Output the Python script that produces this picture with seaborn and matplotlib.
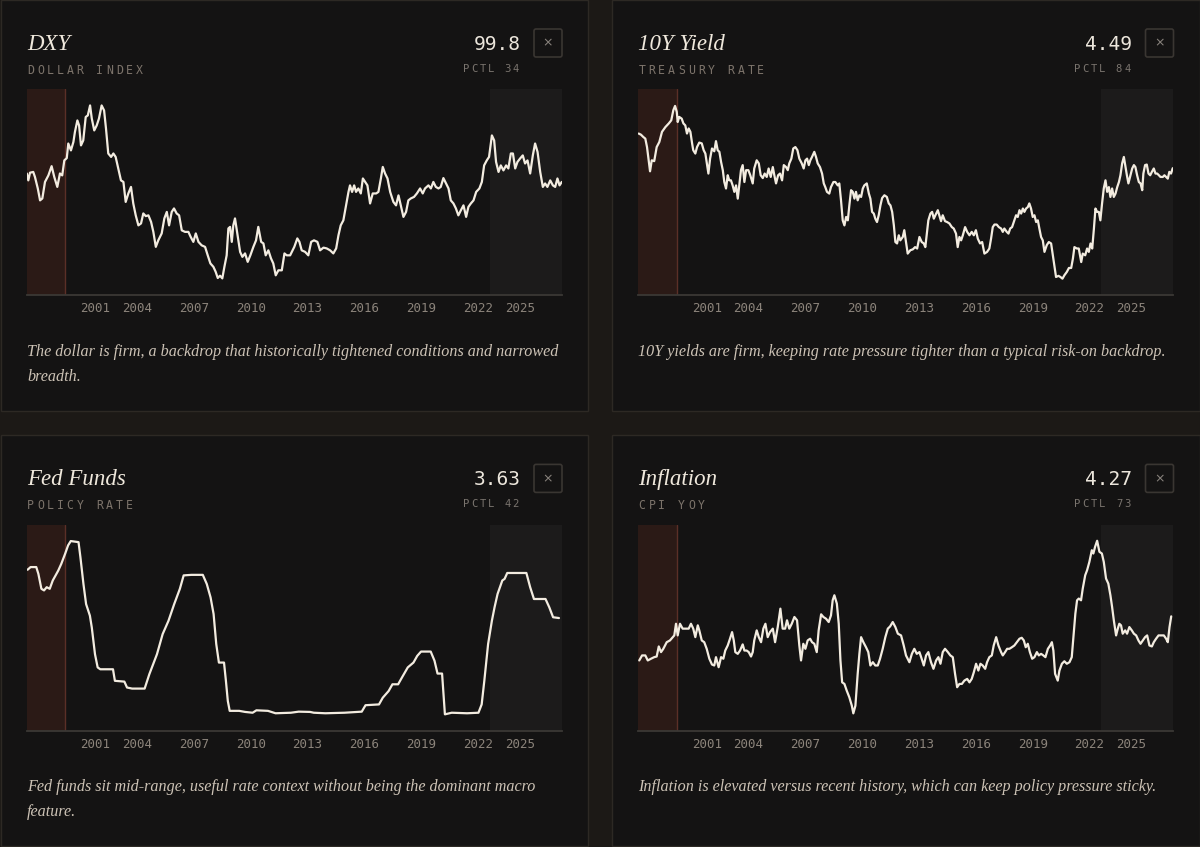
import matplotlib
matplotlib.use("Agg")
import matplotlib.pyplot as plt
from matplotlib.patches import FancyBboxPatch, Rectangle
from matplotlib.transforms import Affine2D
import seaborn as sns

# ---- data (decimal years, series units) ----
dxy_years = [
    1998.18, 1998.26, 1998.35, 1998.52, 1998.61, 1998.76, 1998.88, 1999.00, 1999.14, 1999.32,
    1999.49, 1999.63, 1999.79, 1999.93, 2000.05, 2000.16, 2000.29, 2000.37, 2000.51, 2000.64,
    2000.72, 2000.85, 2000.94, 2001.04, 2001.16, 2001.29, 2001.40, 2001.52, 2001.61, 2001.74,
    2001.87, 2001.99, 2002.13, 2002.26, 2002.36, 2002.48, 2002.63, 2002.75, 2002.87, 2003.01,
    2003.15, 2003.28, 2003.40, 2003.54, 2003.68, 2003.80, 2003.93, 2004.07, 2004.21, 2004.33,
    2004.46, 2004.60, 2004.74, 2004.86, 2004.99, 2005.12, 2005.30, 2005.44, 2005.57, 2005.69,
    2005.83, 2005.95, 2006.09, 2006.22, 2006.36, 2006.53, 2006.71, 2006.83, 2006.97, 2007.10,
    2007.24, 2007.41, 2007.59, 2007.73, 2007.87, 2008.03, 2008.15, 2008.26, 2008.38, 2008.50,
    2008.61, 2008.73, 2008.82, 2008.91, 2009.00, 2009.08, 2009.17, 2009.29, 2009.44, 2009.56,
    2009.70, 2009.84, 2009.98, 2010.14, 2010.28, 2010.40, 2010.55, 2010.67, 2010.79, 2010.93,
    2011.07, 2011.19, 2011.32, 2011.46, 2011.64, 2011.78, 2011.90, 2012.08, 2012.30, 2012.46,
    2012.57, 2012.69, 2012.87, 2013.04, 2013.19, 2013.34, 2013.52, 2013.66, 2013.84, 2014.01,
    2014.19, 2014.36, 2014.51, 2014.63, 2014.75, 2014.89, 2015.03, 2015.16, 2015.24, 2015.35,
    2015.46, 2015.56, 2015.68, 2015.81, 2015.92, 2016.04, 2016.16, 2016.30, 2016.44, 2016.62,
    2016.74, 2016.87, 2016.97, 2017.09, 2017.22, 2017.36, 2017.53, 2017.67, 2017.80, 2017.92,
    2018.06, 2018.20, 2018.32, 2018.45, 2018.62, 2018.77, 2018.94, 2019.08, 2019.20, 2019.38,
    2019.51, 2019.64, 2019.77, 2019.91, 2020.03, 2020.17, 2020.31, 2020.44, 2020.56, 2020.70,
    2020.83, 2020.96, 2021.09, 2021.23, 2021.37, 2021.49, 2021.62, 2021.76, 2021.90, 2022.07,
    2022.20, 2022.32, 2022.46, 2022.58, 2022.73, 2022.85, 2022.95, 2023.08, 2023.20, 2023.34,
    2023.48, 2023.60, 2023.73, 2023.84, 2023.96, 2024.08, 2024.22, 2024.36, 2024.48, 2024.61,
    2024.75, 2024.89, 2025.01, 2025.14, 2025.28, 2025.42, 2025.54, 2025.66, 2025.81, 2025.95,
    2026.07, 2026.19, 2026.30, 2026.42]
dxy_values = [
    102.0, 100.2, 102.2, 102.4, 101.1, 98.1, 95.0, 95.5, 99.8, 101.5,
    103.9, 101.1, 98.5, 102.0, 101.5, 105.4, 106.0, 109.8, 108.0, 110.2,
    112.8, 115.8, 114.5, 109.3, 110.6, 116.7, 117.1, 119.7, 116.3, 113.2,
    114.5, 116.3, 119.7, 118.4, 113.7, 107.2, 106.3, 107.2, 106.3, 103.3,
    100.2, 99.8, 94.6, 96.8, 98.5, 94.2, 91.1, 88.5, 89.0, 91.6,
    90.9, 91.1, 89.4, 86.8, 82.9, 84.6, 86.4, 90.3, 92.0, 88.5,
    92.0, 92.9, 91.6, 91.1, 87.2, 86.8, 86.8, 85.5, 84.2, 86.4,
    84.2, 83.3, 82.9, 80.7, 78.6, 77.7, 76.4, 74.8, 75.4, 74.7,
    77.7, 80.7, 87.7, 88.1, 84.2, 88.5, 90.3, 86.4, 81.6, 80.3,
    81.2, 79.0, 80.7, 82.9, 84.6, 88.1, 84.2, 83.8, 80.7, 82.0,
    79.9, 78.6, 75.5, 76.8, 76.8, 81.2, 80.7, 80.7, 82.9, 85.1,
    84.2, 82.0, 81.6, 80.7, 84.2, 84.6, 84.2, 82.0, 82.7, 82.5,
    82.0, 81.2, 82.5, 85.9, 88.5, 89.8, 93.7, 97.2, 98.9, 97.2,
    98.9, 97.2, 98.1, 96.8, 100.7, 99.8, 98.9, 94.2, 96.8, 96.8,
    97.2, 100.7, 103.7, 102.0, 100.7, 97.2, 94.6, 93.7, 96.3, 93.7,
    90.7, 92.0, 95.0, 95.5, 95.9, 96.8, 98.1, 96.8, 98.1, 98.9,
    98.1, 99.8, 98.5, 98.1, 98.5, 100.8, 99.4, 98.1, 95.0, 94.2,
    92.9, 91.1, 92.4, 93.7, 90.7, 93.3, 94.2, 95.0, 97.2, 98.1,
    99.8, 104.1, 105.4, 106.3, 111.9, 110.6, 105.0, 102.4, 104.1, 102.8,
    104.1, 103.3, 107.2, 107.2, 103.3, 105.0, 105.9, 106.7, 104.6, 105.4,
    102.0, 106.7, 109.8, 107.6, 102.4, 98.5, 99.4, 98.5, 100.2, 98.9,
    98.5, 100.7, 98.9, 99.8]

ust10_years = [
    1998.20, 1998.32, 1998.44, 1998.55, 1998.64, 1998.73, 1998.80, 1998.89, 1999.02, 1999.15,
    1999.29, 1999.43, 1999.61, 1999.79, 1999.92, 2000.03, 2000.12, 2000.21, 2000.26, 2000.34,
    2000.47, 2000.56, 2000.66, 2000.75, 2000.84, 2000.93, 2001.02, 2001.08, 2001.19, 2001.28,
    2001.40, 2001.53, 2001.63, 2001.72, 2001.81, 2001.88, 2001.97, 2002.07, 2002.19, 2002.28,
    2002.37, 2002.46, 2002.55, 2002.64, 2002.72, 2002.81, 2002.90, 2002.98, 2003.07, 2003.16,
    2003.25, 2003.34, 2003.43, 2003.51, 2003.60, 2003.69, 2003.78, 2003.87, 2003.99, 2004.09,
    2004.22, 2004.30, 2004.43, 2004.54, 2004.64, 2004.75, 2004.85, 2004.96, 2005.06, 2005.17,
    2005.28, 2005.36, 2005.45, 2005.56, 2005.66, 2005.77, 2005.86, 2005.98, 2006.07, 2006.15,
    2006.26, 2006.36, 2006.47, 2006.58, 2006.68, 2006.81, 2006.91, 2007.00, 2007.09, 2007.18,
    2007.26, 2007.35, 2007.47, 2007.56, 2007.65, 2007.77, 2007.88, 2007.97, 2008.05, 2008.14,
    2008.26, 2008.35, 2008.48, 2008.58, 2008.71, 2008.79, 2008.88, 2008.97, 2009.06, 2009.15,
    2009.24, 2009.32, 2009.41, 2009.50, 2009.59, 2009.67, 2009.76, 2009.85, 2009.94, 2010.03,
    2010.11, 2010.24, 2010.35, 2010.43, 2010.52, 2010.61, 2010.69, 2010.78, 2010.87, 2010.96,
    2011.05, 2011.17, 2011.30, 2011.40, 2011.49, 2011.58, 2011.67, 2011.75, 2011.84, 2011.93,
    2012.01, 2012.14, 2012.22, 2012.31, 2012.40, 2012.54, 2012.67, 2012.79, 2012.90, 2013.02,
    2013.14, 2013.25, 2013.33, 2013.42, 2013.49, 2013.60, 2013.69, 2013.78, 2013.86, 2013.99,
    2014.07, 2014.16, 2014.25, 2014.37, 2014.48, 2014.60, 2014.73, 2014.83, 2014.95, 2015.04,
    2015.13, 2015.22, 2015.31, 2015.43, 2015.54, 2015.66, 2015.78, 2015.89, 2016.00, 2016.10,
    2016.22, 2016.33, 2016.45, 2016.59, 2016.71, 2016.80, 2016.89, 2016.98, 2017.10, 2017.21,
    2017.33, 2017.42, 2017.50, 2017.63, 2017.72, 2017.81, 2017.91, 2018.03, 2018.12, 2018.21,
    2018.30, 2018.39, 2018.48, 2018.56, 2018.65, 2018.74, 2018.82, 2018.91, 2019.00, 2019.09,
    2019.18, 2019.27, 2019.35, 2019.44, 2019.53, 2019.62, 2019.74, 2019.85, 2019.97, 2020.06,
    2020.14, 2020.23, 2020.36, 2020.46, 2020.57, 2020.67, 2020.80, 2020.91, 2021.03, 2021.12,
    2021.20, 2021.33, 2021.43, 2021.56, 2021.64, 2021.77, 2021.87, 2021.96, 2022.05, 2022.14,
    2022.23, 2022.31, 2022.40, 2022.49, 2022.57, 2022.66, 2022.75, 2022.84, 2022.93, 2023.02,
    2023.10, 2023.19, 2023.28, 2023.37, 2023.46, 2023.55, 2023.63, 2023.72, 2023.81, 2023.88,
    2023.97, 2024.05, 2024.16, 2024.25, 2024.34, 2024.42, 2024.51, 2024.60, 2024.69, 2024.78,
    2024.84, 2024.93, 2025.02, 2025.11, 2025.20, 2025.29, 2025.39, 2025.48, 2025.57, 2025.66,
    2025.74, 2025.87, 2025.95, 2026.04, 2026.13, 2026.21, 2026.30, 2026.39]
ust10_values = [
    5.72, 5.68, 5.60, 5.54, 5.24, 4.77, 4.38, 4.77, 4.74, 5.24,
    5.42, 5.78, 5.95, 6.08, 6.19, 6.55, 6.70, 6.49, 6.13, 6.31,
    6.25, 6.08, 6.01, 5.72, 5.90, 5.78, 5.37, 5.13, 5.01, 5.24,
    5.40, 5.37, 5.13, 5.01, 4.60, 4.30, 4.83, 5.19, 5.09, 5.45,
    5.13, 5.07, 4.71, 4.42, 4.00, 3.77, 4.24, 4.06, 4.06, 3.88,
    3.65, 3.88, 3.41, 3.88, 4.42, 4.60, 4.00, 4.42, 4.42, 4.24,
    3.95, 4.48, 4.77, 4.66, 4.24, 4.14, 4.30, 4.18, 4.48, 4.18,
    4.53, 4.24, 3.95, 4.24, 4.30, 4.06, 4.60, 4.53, 4.42, 4.66,
    4.83, 5.19, 5.24, 5.13, 4.83, 4.66, 4.48, 4.77, 4.83, 4.60,
    4.77, 4.89, 5.07, 4.89, 4.66, 4.53, 4.30, 3.95, 3.82, 3.65,
    3.59, 3.82, 4.00, 4.00, 3.88, 3.95, 3.35, 2.64, 2.46, 2.76,
    2.64, 3.17, 3.71, 3.65, 3.41, 3.65, 3.35, 3.53, 3.47, 3.77,
    3.88, 3.95, 3.59, 3.41, 2.94, 2.88, 2.70, 2.58, 2.82, 3.17,
    3.43, 3.53, 3.47, 3.24, 3.17, 2.94, 2.46, 1.87, 1.82, 2.11,
    1.93, 2.05, 2.29, 1.87, 1.46, 1.58, 1.61, 1.69, 1.64, 2.05,
    1.87, 1.82, 1.69, 2.23, 2.64, 2.88, 2.94, 2.70, 2.82, 3.00,
    2.82, 2.61, 2.82, 2.61, 2.58, 2.53, 2.40, 2.35, 2.17, 1.69,
    2.05, 1.93, 2.11, 2.40, 2.23, 2.11, 2.23, 2.11, 2.29, 1.99,
    1.82, 1.87, 1.46, 1.52, 1.64, 1.99, 2.40, 2.49, 2.49, 2.40,
    2.35, 2.23, 2.35, 2.23, 2.17, 2.35, 2.40, 2.64, 2.82, 2.76,
    3.00, 2.88, 3.06, 2.94, 3.06, 3.11, 3.24, 3.06, 2.76, 2.82,
    2.58, 2.64, 2.35, 2.05, 1.93, 1.52, 1.76, 1.87, 1.82, 1.40,
    1.05, 0.63, 0.67, 0.63, 0.57, 0.69, 0.81, 0.95, 0.95, 1.28,
    1.69, 1.64, 1.64, 1.16, 1.46, 1.40, 1.64, 1.52, 1.82, 1.64,
    2.35, 3.06, 2.94, 2.94, 2.64, 3.24, 3.77, 4.06, 3.65, 3.82,
    3.47, 3.77, 3.47, 3.59, 3.82, 4.00, 4.24, 4.66, 4.89, 4.60,
    4.24, 3.95, 4.24, 4.48, 4.60, 4.53, 4.24, 4.00, 3.95, 3.71,
    4.30, 4.60, 4.62, 4.30, 4.24, 4.36, 4.48, 4.30, 4.30, 4.24,
    4.18, 4.18, 4.24, 4.18, 4.12, 4.36, 4.30, 4.49]

fed_years = [
    1998.22, 1998.38, 1998.68, 1998.79, 1998.95, 1999.09, 1999.23, 1999.39, 1999.55, 1999.70,
    1999.84, 2000.00, 2000.20, 2000.36, 2000.50, 2000.91, 2001.01, 2001.17, 2001.31, 2001.51,
    2001.61, 2001.78, 2001.92, 2002.06, 2002.73, 2002.83, 2003.33, 2003.47, 2003.74, 2004.40,
    2004.65, 2005.05, 2005.35, 2005.66, 2005.96, 2006.26, 2006.46, 2006.87, 2007.47, 2007.68,
    2007.88, 2008.04, 2008.18, 2008.32, 2008.59, 2008.69, 2008.79, 2008.89, 2009.09, 2009.39,
    2009.70, 2010.10, 2010.30, 2010.91, 2011.31, 2012.12, 2012.53, 2013.13, 2013.33, 2013.94,
    2014.95, 2015.86, 2016.06, 2016.77, 2016.97, 2017.28, 2017.48, 2017.78, 2017.98, 2018.29,
    2018.59, 2018.79, 2018.99, 2019.50, 2019.70, 2019.86, 2020.10, 2020.25, 2020.61, 2021.42,
    2022.02, 2022.19, 2022.33, 2022.53, 2022.73, 2022.87, 2023.03, 2023.28, 2023.40, 2023.54,
    2024.55, 2024.75, 2024.95, 2025.56, 2025.76, 2025.96, 2026.27]
fed_values = [
    5.43, 5.53, 5.53, 5.28, 4.72, 4.66, 4.78, 4.72, 5.03, 5.22,
    5.40, 5.65, 6.02, 6.34, 6.50, 6.46, 5.90, 4.90, 4.15, 3.72,
    3.28, 2.28, 1.79, 1.72, 1.72, 1.29, 1.26, 1.04, 1.00, 1.00,
    1.54, 2.28, 3.03, 3.53, 4.15, 4.72, 5.22, 5.24, 5.24, 4.90,
    4.40, 3.78, 2.66, 1.97, 1.97, 1.29, 0.54, 0.17, 0.17, 0.17,
    0.13, 0.10, 0.19, 0.17, 0.08, 0.10, 0.14, 0.13, 0.10, 0.08,
    0.10, 0.14, 0.38, 0.41, 0.66, 0.91, 1.16, 1.16, 1.41, 1.79,
    1.97, 2.22, 2.38, 2.38, 2.04, 1.56, 1.56, 0.04, 0.10, 0.08,
    0.10, 0.41, 1.29, 2.66, 3.53, 4.03, 4.53, 5.03, 5.09, 5.31,
    5.31, 4.78, 4.34, 4.34, 4.03, 3.66, 3.63]

cpi_years = [
    1998.23, 1998.38, 1998.55, 1998.68, 1998.85, 1999.02, 1999.15, 1999.26, 1999.38, 1999.50,
    1999.68, 1999.85, 2000.00, 2000.08, 2000.17, 2000.26, 2000.38, 2000.52, 2000.66, 2000.84,
    2000.96, 2001.08, 2001.19, 2001.32, 2001.40, 2001.53, 2001.66, 2001.79, 2001.93, 2002.07,
    2002.19, 2002.28, 2002.42, 2002.55, 2002.67, 2002.77, 2002.90, 2003.02, 2003.13, 2003.22,
    2003.30, 2003.43, 2003.55, 2003.69, 2003.78, 2003.90, 2004.01, 2004.13, 2004.22, 2004.30,
    2004.43, 2004.54, 2004.66, 2004.78, 2004.89, 2005.01, 2005.13, 2005.28, 2005.40, 2005.54,
    2005.68, 2005.80, 2005.93, 2006.03, 2006.15, 2006.28, 2006.42, 2006.56, 2006.68, 2006.77,
    2006.89, 2007.00, 2007.12, 2007.25, 2007.35, 2007.47, 2007.60, 2007.70, 2007.83, 2007.95,
    2008.09, 2008.23, 2008.35, 2008.44, 2008.53, 2008.66, 2008.76, 2008.85, 2008.94, 2009.06,
    2009.18, 2009.32, 2009.45, 2009.53, 2009.64, 2009.76, 2009.85, 2009.94, 2010.06, 2010.20,
    2010.32, 2010.43, 2010.56, 2010.69, 2010.82, 2010.94, 2011.08, 2011.22, 2011.35, 2011.47,
    2011.61, 2011.75, 2011.88, 2012.05, 2012.19, 2012.31, 2012.49, 2012.62, 2012.75, 2012.88,
    2013.02, 2013.11, 2013.25, 2013.37, 2013.49, 2013.63, 2013.76, 2013.90, 2014.02, 2014.13,
    2014.25, 2014.37, 2014.52, 2014.65, 2014.78, 2014.90, 2015.01, 2015.13, 2015.26, 2015.39,
    2015.54, 2015.66, 2015.78, 2015.89, 2016.01, 2016.13, 2016.24, 2016.36, 2016.49, 2016.59,
    2016.71, 2016.84, 2016.94, 2017.07, 2017.19, 2017.33, 2017.42, 2017.54, 2017.65, 2017.77,
    2017.90, 2018.03, 2018.16, 2018.30, 2018.42, 2018.53, 2018.63, 2018.74, 2018.85, 2018.97,
    2019.09, 2019.22, 2019.32, 2019.44, 2019.56, 2019.67, 2019.80, 2019.92, 2020.01, 2020.09,
    2020.18, 2020.32, 2020.41, 2020.54, 2020.67, 2020.80, 2020.94, 2021.06, 2021.17, 2021.25,
    2021.34, 2021.43, 2021.55, 2021.64, 2021.77, 2021.87, 2021.99, 2022.12, 2022.20, 2022.29,
    2022.40, 2022.52, 2022.65, 2022.75, 2022.87, 2022.99, 2023.10, 2023.19, 2023.28, 2023.40,
    2023.49, 2023.57, 2023.66, 2023.75, 2023.88, 2023.98, 2024.10, 2024.23, 2024.34, 2024.46,
    2024.58, 2024.69, 2024.81, 2024.93, 2025.04, 2025.16, 2025.29, 2025.39, 2025.51, 2025.64,
    2025.78, 2025.92, 2026.04, 2026.13, 2026.22, 2026.31]
cpi_values = [
    1.47, 1.79, 1.79, 1.47, 1.58, 1.68, 1.72, 2.36, 2.00, 2.21,
    2.63, 2.74, 2.95, 3.06, 3.80, 3.06, 3.80, 3.49, 3.49, 3.49,
    3.80, 3.49, 2.95, 3.70, 3.38, 2.74, 2.63, 2.21, 1.58, 1.21,
    1.15, 1.68, 1.04, 1.68, 1.58, 2.10, 2.42, 2.85, 3.27, 2.74,
    2.00, 1.89, 2.10, 2.49, 2.10, 2.10, 2.00, 1.72, 2.00, 2.74,
    3.38, 2.95, 2.63, 3.49, 3.80, 2.95, 3.27, 3.49, 2.63, 3.59,
    4.76, 3.49, 3.49, 4.02, 3.49, 3.80, 4.23, 4.02, 2.42, 1.47,
    2.53, 2.21, 2.74, 2.85, 2.63, 2.53, 2.00, 3.38, 4.40, 4.23,
    4.12, 3.91, 4.33, 5.29, 5.61, 5.08, 3.80, 1.47, 0.08, -0.02,
    -0.44, -0.87, -1.40, -1.89, -1.40, 0.62, 1.89, 2.95, 2.63, 2.31,
    2.00, 1.15, 1.36, 1.15, 1.15, 1.58, 2.21, 2.95, 3.49, 3.63,
    3.91, 3.59, 3.17, 3.06, 2.42, 1.79, 1.36, 1.89, 2.21, 1.89,
    2.00, 1.68, 1.15, 1.79, 2.00, 1.36, 0.94, 1.47, 1.68, 1.26,
    2.00, 2.21, 2.00, 1.79, 1.68, 0.62, -0.23, -0.02, -0.02, 0.19,
    0.30, 0.08, 0.30, 0.72, 1.26, 0.83, 1.26, 1.15, 0.94, 1.36,
    1.68, 1.79, 2.42, 2.95, 2.42, 2.00, 1.79, 2.00, 2.21, 2.21,
    2.31, 2.42, 2.63, 2.85, 2.91, 2.74, 2.31, 2.53, 2.00, 1.58,
    1.68, 2.00, 1.79, 1.89, 1.79, 1.68, 2.21, 2.42, 2.63, 2.10,
    0.62, 0.19, 0.83, 1.26, 1.42, 1.26, 1.36, 1.68, 3.27, 4.44,
    5.29, 5.40, 5.29, 6.03, 6.88, 7.20, 7.73, 8.47, 8.26, 8.68,
    9.07, 8.37, 8.26, 7.73, 6.67, 6.35, 5.61, 4.86, 4.02, 3.06,
    3.49, 3.80, 3.70, 3.17, 3.38, 3.17, 3.59, 3.38, 3.17, 3.06,
    2.74, 2.53, 2.74, 2.95, 3.06, 2.42, 2.36, 2.63, 2.85, 3.06,
    3.06, 3.06, 2.85, 2.63, 3.59, 4.27]

tick_years = [2001, 2004, 2007, 2010, 2013, 2016, 2019, 2022, 2025]
x_start, x_end = 1998.18, 2026.42
history_end = 2000.2      # reddish band at the left
recent_start = 2022.63    # grey band at the right

titles = ["DXY", "10Y Yield", "Fed Funds", "Inflation"]
subtitles = ["DOLLAR INDEX", "TREASURY RATE", "POLICY RATE", "CPI YOY"]
latest = ["99.8", "4.49", "3.63", "4.27"]
pctl = ["PCTL 34", "PCTL 84", "PCTL 42", "PCTL 73"]
captions = [
    ["The dollar is firm, a backdrop that historically tightened conditions and narrowed",
     "breadth."],
    ["10Y yields are firm, keeping rate pressure tighter than a typical risk-on backdrop."],
    ["Fed funds sit mid-range, useful rate context without being the dominant macro",
     "feature."],
    ["Inflation is elevated versus recent history, which can keep policy pressure sticky."],
]
series = [(dxy_years, dxy_values), (ust10_years, ust10_values),
          (fed_years, fed_values), (cpi_years, cpi_values)]
y_limits = [(70.3, 123.9), (-0.02, 7.29), (-0.57, 7.11), (-2.99, 10.09)]

# ---- style ----
sns.set_style("dark")
plt.rcParams['font.family'] = ['DejaVu Sans']

BG = "#1c1916"
CARD = "#141313"
CARD_EDGE = "#2d2924"
LINE = "#f3ece0"
SERIF = "Liberation Serif"
MONO = "DejaVu Sans Mono"

W, H = 1200, 847
fig = plt.figure(figsize=(12, 8.47), dpi=100)
fig.patch.set_facecolor(BG)
# pixel coordinates, origin top-left
pix = Affine2D().scale(1.0 / W, -1.0 / H).translate(0, 1) + fig.transFigure


def spaced_text(x, y, s, size, color, adv, align="left"):
    # monospace caps with extra tracking
    cw = 0.602 * size * 100 / 72
    if align == "right":
        x = x - (len(s) - 1) * adv - cw
    for i, ch in enumerate(s):
        if ch != " ":
            fig.text(x + i * adv, y, ch, transform=pix, fontsize=size,
                     family=MONO, color=color, ha="left", va="baseline")


cards = [(0.5, 0.5, 588, 411.5), (611.5, 0.5, 1199.5, 411.5),
         (0.5, 435, 588, 846.5), (611.5, 435, 1199.5, 846.5)]
offsets = [(0, 0), (611.5, 0), (0, 435.4), (611.5, 435.4)]

for i in range(4):
    x0, y0, x1, y1 = cards[i]
    fig.add_artist(Rectangle((x0, y0), x1 - x0, y1 - y0, transform=pix,
                             facecolor=CARD, edgecolor=CARD_EDGE, lw=1, zorder=-10))
    dx, dy = offsets[i]

    # header
    fig.text(27 + dx, 50 + dy, titles[i], transform=pix, fontsize=16.5,
             family=SERIF, style="italic", color="#efe8dc", ha="left", va="baseline")
    spaced_text(27 + dx, 74 + dy, subtitles[i], 8.3, "#7d746b", 9.9)
    fig.text(520.5 + dx, 50 + dy, latest[i], transform=pix, fontsize=14,
             family=MONO, color="#ece6dc", ha="right", va="baseline")
    spaced_text(519 + dx, 72 + dy, pctl[i], 7.6, "#7a746e", 8.3, align="right")
    fig.add_artist(FancyBboxPatch((534 + dx, 29 + dy), 28, 28, transform=pix,
                                  boxstyle="round,pad=0,rounding_size=2",
                                  facecolor="none", edgecolor="#3a3632", lw=1.2))
    fig.text(548 + dx, 43 + dy, "\u00d7", transform=pix, fontsize=9,
             color="#8a847e", ha="center", va="center")

    # caption, one text per line
    for k, line in enumerate(captions[i]):
        fig.text(27 + dx, 356 + 25 * k + dy, line, transform=pix, fontsize=11.6,
                 family=SERIF, style="italic", color="#cdc3b6", ha="left",
                 va="baseline")

    # chart
    ax = fig.add_axes([(26.8 + dx) / W, 1 - (295.3 + dy) / H, 535 / W, 206 / H])
    ax.set_facecolor(CARD)
    ax.axvspan(x_start, history_end, color="#2b1a16", lw=0, zorder=0)
    ax.axvline(history_end, color="#5b2f27", lw=1, zorder=0.5)
    ax.axvspan(recent_start, x_end, color="#1c1b1b", lw=0, zorder=0)

    xs, ys = series[i]
    n = min(len(xs), len(ys))
    sns.lineplot(x=xs[:n], y=ys[:n], ax=ax, color=LINE, linewidth=1.6,
                 estimator=None, sort=False, zorder=3)

    ax.set_xlim(x_start, x_end)
    ax.set_ylim(*y_limits[i])
    ax.set_xlabel("")
    ax.set_ylabel("")
    ax.set_yticks([])
    ax.set_xticks(tick_years)
    ax.set_xticklabels([str(t) for t in tick_years])
    ax.tick_params(axis="x", length=0, pad=5, labelsize=9, labelcolor="#8c847b")
    labels = ax.get_xticklabels()
    for lab in labels:
        lab.set_fontfamily(MONO)
    labels[0].set_ha("left")
    labels[-1].set_ha("right")
    ax.grid(False)
    for side in ["top", "left", "right"]:
        ax.spines[side].set_visible(False)
    ax.spines["bottom"].set_color("#3b3835")
    ax.spines["bottom"].set_linewidth(1.3)

fig.savefig("out.png", dpi=100, facecolor=fig.get_facecolor())
